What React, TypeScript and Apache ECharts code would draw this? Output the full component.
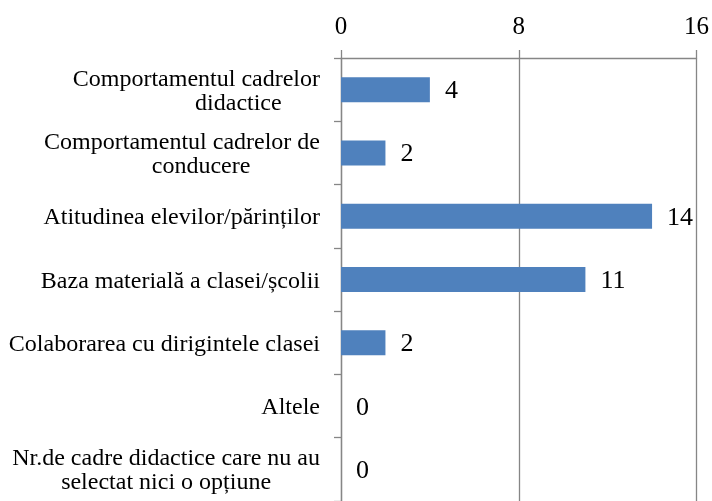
import React, { useEffect, useRef } from "react";
import * as echarts from "echarts";

const categories: string[] = [
  "Comportamentul cadrelor\ndidactice",
  "Comportamentul cadrelor de\nconducere",
  "Atitudinea elevilor/părinților",
  "Baza materială a clasei/școlii",
  "Colaborarea cu dirigintele clasei",
  "Altele",
  "Nr.de cadre didactice care nu au\nselectat nici o opțiune",
];
const values: number[] = [4, 2, 14, 11, 2, 0, 0];
const axisMin = 0;
const axisMax = 16;
const axisStep = 8;

const FONT = "'Times New Roman', 'Liberation Serif', 'DejaVu Serif', serif";
const GRAY = "#868686";

export default function App() {
  const ref = useRef<HTMLDivElement>(null);
  useEffect(() => {
    if (!ref.current) return;
    const chart = echarts.init(ref.current, undefined, { renderer: "svg" });
    const shift: Record<number, string> = { 0: "s0", 1: "s1" };
    const base = { fontSize: 24, lineHeight: 24, fontFamily: FONT, color: "#000" };
    chart.setOption({
      animation: false,
      textStyle: { fontFamily: FONT },
      grid: { left: 341, top: 58, width: 357, height: 448 },
      xAxis: {
        type: "value",
        position: "top",
        min: axisMin,
        max: axisMax,
        interval: axisStep,
        axisLine: { show: true, lineStyle: { color: GRAY, width: 1.3 } },
        axisTick: { show: true, length: 8, lineStyle: { color: GRAY, width: 1.3 } },
        splitLine: { show: true, lineStyle: { color: GRAY, width: 1.3 } },
        axisLabel: { fontSize: 25, fontFamily: FONT, color: "#000", margin: 20 },
      },
      yAxis: {
        type: "category",
        inverse: true,
        data: categories,
        axisLine: { show: true, lineStyle: { color: GRAY, width: 1.3 } },
        axisTick: { show: true, length: 7, lineStyle: { color: GRAY, width: 1.3 } },
        axisLabel: {
          margin: 21,
          color: "#000",
          fontSize: 24,
          fontFamily: FONT,
          formatter: (v: string, i: number) => {
            const lines = v.split("\n");
            return lines
              .map((l, k) => `{${k === 1 && shift[i] ? shift[i] : "c"}|${l}}`)
              .join("\n");
          },
          rich: {
            c: { ...base, align: "center" },
            s0: { ...base, align: "center", padding: [0, 0, 0, 84] },
            s1: { ...base, align: "center", padding: [0, 0, 0, 38] },
          },
        },
      },
      series: [
        {
          type: "bar",
          data: values,
          barWidth: 25,
          itemStyle: { color: "#4F81BD" },
          label: {
            show: true,
            position: "right",
            distance: 15,
            fontSize: 26,
            fontFamily: FONT,
            color: "#000",
          },
        },
      ],
    });
    return () => chart.dispose();
  }, []);
  return (
    <div
      ref={ref}
      style={{ position: "fixed", left: 0, top: 0, width: 712, height: 501 }}
    />
  );
}
